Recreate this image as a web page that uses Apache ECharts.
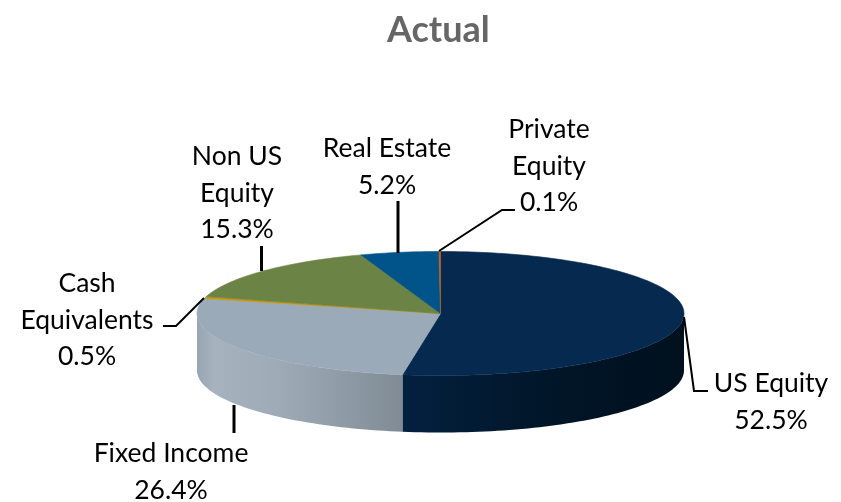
<!DOCTYPE html>
<html>
<head>
<meta charset="utf-8">
<style>html,body{margin:0;padding:0;background:#fff}#c{width:841px;height:502px}</style>
<script src="https://cdn.jsdelivr.net/npm/echarts@6/dist/echarts.min.js"></script>
</head>
<body>
<div id="c"></div>
<script>
const categories = ['US Equity', 'Fixed Income', 'Cash Equivalents', 'Non US Equity', 'Real Estate', 'Private Equity'];
const values = [52.5, 26.4, 0.5, 15.3, 5.2, 0.1];

const labelLines = [['US Equity'], ['Fixed Income'], ['Cash', 'Equivalents'], ['Non US', 'Equity'], ['Real Estate'], ['Private', 'Equity']];
const topColors = ['#06294f', '#9baab9', '#c8960f', '#6b8345', '#00548a', '#c0601a'];
const wallStops = [
  [[0, '#03203f'], [0.5, '#011629'], [1, '#00101e']],
  [[0, '#98a5b2'], [0.08, '#a6b2be'], [0.4, '#9eabb7'], [1, '#808b95']],
  null, null, null, null
];
const labelPos = [[771, 402], [171, 472], [87, 320], [237, 193], [387, 167], [549, 166]];
const leaders = [
  [[684, 317], [694, 391], [708, 391]],
  [[234, 405], [234, 433]],
  [[163, 326], [176, 326], [204, 298]],
  [[261.5, 246], [261.5, 271]],
  [[398, 201], [398, 253]],
  [[515, 210], [502, 210], [439, 251]]
];
const leaderWidths = [2, 3, 2, 3, 3, 2];
const pie = { cx: 440.5, cy: 313.5, rx: 243.5, ry: 62, depth: 57 };

const total = values.reduce((a, b) => a + b, 0);
let acc = 0;
const rows = values.map((v, i) => { const s = acc; acc += v; return [i, s, acc, v]; });

function pt(deg, dy) {
  const t = deg * Math.PI / 180;
  return [pie.cx + pie.rx * Math.sin(t), pie.cy - pie.ry * Math.cos(t) + (dy || 0)];
}
function arc(a0, a1, dy) {
  const n = Math.max(2, Math.ceil(Math.abs(a1 - a0) / 1.5));
  const out = [];
  for (let k = 0; k <= n; k++) out.push(pt(a0 + (a1 - a0) * k / n, dy));
  return out;
}
function renderItem(params, api) {
  const i = api.value(0);
  const a0 = api.value(1) / total * 360, a1 = api.value(2) / total * 360;
  const children = [];
  const w0 = Math.max(a0, 90), w1 = Math.min(a1, 270);
  if (w1 > w0) {
    const stops = wallStops[i] || [[0, topColors[i]], [1, topColors[i]]];
    children.push({
      type: 'polygon',
      shape: { points: arc(w0, w1, 0).concat(arc(w1, w0, pie.depth)) },
      style: { fill: new echarts.graphic.LinearGradient(0, 0, 1, 0, stops.map(s => ({ offset: s[0], color: s[1] }))) }
    });
  }
  children.push({
    type: 'polygon',
    shape: { points: [[pie.cx, pie.cy]].concat(arc(a0, a1, 0)) },
    style: { fill: topColors[i], stroke: topColors[i], lineWidth: 0.6 }
  });
  children.push({
    type: 'polyline', z2: 20,
    shape: { points: leaders[i] },
    style: { fill: null, stroke: '#000', lineWidth: leaderWidths[i] }
  });
  children.push({
    type: 'text', z2: 30,
    style: {
      text: labelLines[i].concat([api.value(3).toFixed(1) + '%']).join('\n'),
      x: labelPos[i][0], y: labelPos[i][1],
      textAlign: 'center', textVerticalAlign: 'middle',
      font: '26.5px Lato', lineHeight: 36.5, fill: '#000'
    }
  });
  return { type: 'group', children };
}

const chart = echarts.init(document.getElementById('c'), null, { renderer: 'canvas' });
chart.setOption({
  animation: false,
  backgroundColor: '#fff',
  title: {
    text: 'Actual', left: 382, top: 7,
    textStyle: { fontFamily: 'Lato', fontSize: 36, fontWeight: 'bold', color: '#666666' }
  },
  tooltip: { show: false },
  series: [{
    type: 'custom',
    coordinateSystem: 'none',
    silent: true,
    renderItem,
    encode: { itemName: 0 },
    data: rows
  }]
});
</script>
</body>
</html>
